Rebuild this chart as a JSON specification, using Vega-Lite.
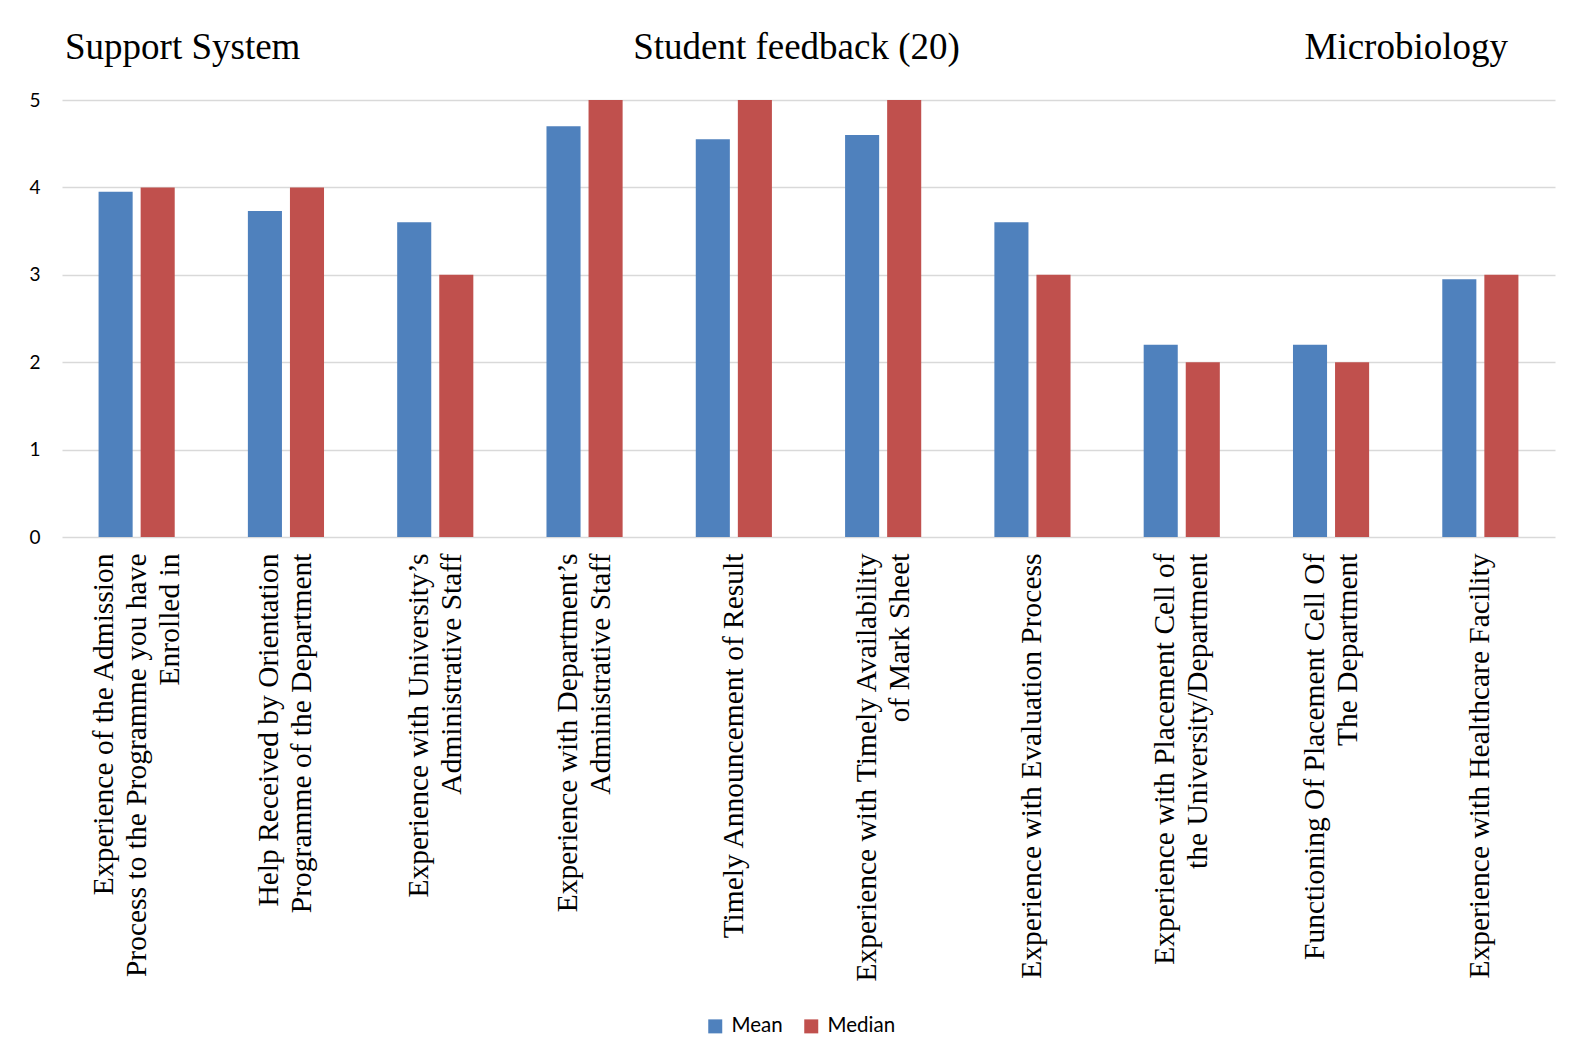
{
  "$schema": "https://vega.github.io/schema/vega-lite/v6.json",
  "width": 1493,
  "height": 437,
  "autosize": {"type": "none"},
  "padding": {"left": 62, "top": 100, "right": 15, "bottom": 525},
  "background": "white",
  "config": {"view": {"stroke": null}, "font": "Liberation Serif"},
  "resolve": {"scale": {"x": "independent"}},
  "layer": [
    {
      "data": {"values": [
        {"item": "Experience of the Admission|Process to the Programme you have|Enrolled in", "stat": "Mean", "value": 3.95},
        {"item": "Experience of the Admission|Process to the Programme you have|Enrolled in", "stat": "Median", "value": 4},
        {"item": "Help Received by Orientation|Programme of the Department", "stat": "Mean", "value": 3.73},
        {"item": "Help Received by Orientation|Programme of the Department", "stat": "Median", "value": 4},
        {"item": "Experience with University’s|Administrative Staff", "stat": "Mean", "value": 3.6},
        {"item": "Experience with University’s|Administrative Staff", "stat": "Median", "value": 3},
        {"item": "Experience with Department’s|Administrative Staff", "stat": "Mean", "value": 4.7},
        {"item": "Experience with Department’s|Administrative Staff", "stat": "Median", "value": 5},
        {"item": "Timely Announcement of Result", "stat": "Mean", "value": 4.55},
        {"item": "Timely Announcement of Result", "stat": "Median", "value": 5},
        {"item": "Experience with Timely Availability|of Mark Sheet", "stat": "Mean", "value": 4.6},
        {"item": "Experience with Timely Availability|of Mark Sheet", "stat": "Median", "value": 5},
        {"item": "Experience with Evaluation Process", "stat": "Mean", "value": 3.6},
        {"item": "Experience with Evaluation Process", "stat": "Median", "value": 3},
        {"item": "Experience with Placement Cell of|the University/Department", "stat": "Mean", "value": 2.2},
        {"item": "Experience with Placement Cell of|the University/Department", "stat": "Median", "value": 2},
        {"item": "Functioning Of Placement Cell Of|The Department", "stat": "Mean", "value": 2.2},
        {"item": "Functioning Of Placement Cell Of|The Department", "stat": "Median", "value": 2},
        {"item": "Experience with Healthcare Facility", "stat": "Mean", "value": 2.95},
        {"item": "Experience with Healthcare Facility", "stat": "Median", "value": 3}
      ]},
      "mark": {"type": "bar"},
      "encoding": {
        "x": {
          "field": "item", "type": "nominal", "sort": null,
          "scale": {"paddingInner": 0.49, "paddingOuter": 0.245},
          "axis": {
            "title": null, "labelAngle": -90, "labelAlign": "right", "labelBaseline": "middle",
            "labelExpr": "split(datum.label, '|')",
            "labelOffset": {"condition": [
              {"test": "length(split(datum.value, '|')) == 3", "value": -33},
              {"test": "length(split(datum.value, '|')) == 2", "value": -16.5}
            ], "value": 0},
            "labelFont": "Liberation Serif", "labelFontSize": 29.5, "labelLineHeight": 33,
            "labelColor": "#000000", "labelPadding": 16, "labelLimit": 1000,
            "ticks": false, "domain": false, "labelOverlap": false, "labelBound": false
          }
        },
        "xOffset": {"field": "stat", "type": "nominal", "scale": {"paddingInner": 0.19, "paddingOuter": 0}},
        "y": {
          "field": "value", "type": "quantitative",
          "scale": {"domain": [0, 5], "nice": false},
          "axis": {
            "title": null, "values": [0, 1, 2, 3, 4, 5], "format": "d", "grid": true, "gridColor": "#D9D9D9", "gridWidth": 1.5,
            "ticks": false, "domain": false, "labelFont": "Lato", "labelFontSize": 19,
            "labelColor": "#000000", "labelPadding": 22
          }
        },
        "color": {
          "field": "stat", "type": "nominal",
          "scale": {"domain": ["Mean", "Median"], "range": ["#4F81BD", "#C0504D"]},
          "legend": {
            "title": null, "orient": "none", "legendX": 643, "legendY": 916, "direction": "horizontal",
            "symbolType": "square", "symbolSize": 196, "symbolStrokeWidth": 0,
            "labelFont": "Lato", "labelFontSize": 20.5, "labelColor": "#000000",
            "labelOffset": 6, "columnPadding": 18
          }
        }
      }
    },
    {
      "data": {"values": [
        {"header": "Support System", "slot": "left"},
        {"header": "Student feedback (20)", "slot": "center"},
        {"header": "Microbiology", "slot": "right"}
      ]},
      "layer": [
        {
          "transform": [{"filter": "datum.slot == 'left'"}],
          "mark": {"type": "text", "align": "left", "baseline": "middle", "font": "Liberation Serif", "fontSize": 37, "color": "#000000", "dx": 3},
          "encoding": {
            "x": {"field": "slot", "type": "nominal", "scale": {"type": "point", "domain": ["left", "center", "right"], "padding": 0}, "axis": null},
            "y": {"datum": 5.6, "type": "quantitative", "scale": {"domain": [0, 5], "nice": false}, "title": null},
            "text": {"field": "header"}
          }
        },
        {
          "transform": [{"filter": "datum.slot == 'center'"}],
          "mark": {"type": "text", "align": "center", "baseline": "middle", "font": "Liberation Serif", "fontSize": 37, "color": "#000000", "dx": -12},
          "encoding": {
            "x": {"field": "slot", "type": "nominal", "scale": {"type": "point", "domain": ["left", "center", "right"], "padding": 0}, "axis": null},
            "y": {"datum": 5.6, "type": "quantitative", "scale": {"domain": [0, 5], "nice": false}, "title": null},
            "text": {"field": "header"}
          }
        },
        {
          "transform": [{"filter": "datum.slot == 'right'"}],
          "mark": {"type": "text", "align": "right", "baseline": "middle", "font": "Liberation Serif", "fontSize": 37, "color": "#000000", "dx": -47},
          "encoding": {
            "x": {"field": "slot", "type": "nominal", "scale": {"type": "point", "domain": ["left", "center", "right"], "padding": 0}, "axis": null},
            "y": {"datum": 5.6, "type": "quantitative", "scale": {"domain": [0, 5], "nice": false}, "title": null},
            "text": {"field": "header"}
          }
        }
      ]
    }
  ]
}
